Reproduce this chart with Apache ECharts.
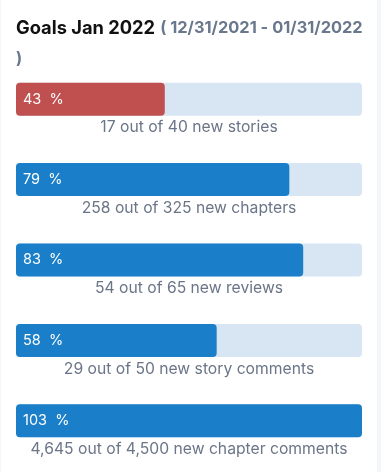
<!DOCTYPE html>
<html><head><meta charset="utf-8">
<script src="https://cdn.jsdelivr.net/npm/echarts@6/dist/echarts.min.js"></script>
<style>
html,body{margin:0;padding:0;background:#f4f6f9;}
#card{position:absolute;left:1px;top:0;width:376px;height:472px;background:#fff;}
#c{width:376px;height:472px;}
</style></head>
<body><div id="card"><div id="c"></div></div>
<script>
const categories = ['stories','chapters','reviews','story comments','chapter comments'];
const done = [17, 258, 54, 29, 4645];
const goals = [40, 325, 65, 50, 4500];
const percents = [43, 79, 83, 58, 103];
const barColors = ['#c0504f','#1a7fc8','#1a7fc8','#1a7fc8','#1a7fc8'];

const fmt = n => n.toLocaleString('en-US');
const chart = echarts.init(document.getElementById('c'));
chart.setOption({
  animation:false,
  title:{
    left:15, top:13, padding:0,
    text:'{a|Goals Jan 2022} {b|( 12/31/2021 - 01/31/2022}\n{b|)}',
    textStyle:{
      lineHeight:31,
      rich:{
        a:{fontFamily:'Inter',fontWeight:'bold',fontSize:18.3,color:'#111',lineHeight:31},
        b:{fontFamily:'Inter',fontWeight:'bold',fontSize:16.4,color:'#6a788e',lineHeight:31}
      }
    }
  },
  grid:{left:15, width:346, top:59, bottom:11},
  xAxis:{type:'value', min:0, max:100, show:false},
  yAxis:{type:'category', data:categories, inverse:true, show:false},
  series:[
    {
      type:'bar', barWidth:33, barGap:'-100%', silent:true,
      data: categories.map(()=>100),
      itemStyle:{color:'#d8e5f3', borderRadius:4},
      label:{show:true, position:'bottom', distance:4,
        fontFamily:'Inter', fontSize:15.7, color:'#6b7588',
        formatter:p=>fmt(done[p.dataIndex])+' out of '+fmt(goals[p.dataIndex])+' new '+categories[p.dataIndex]}
    },
    {
      type:'bar', barWidth:33, barGap:'-100%',
      data: percents.map((v,i)=>({value:Math.min(v,100), itemStyle:{color:barColors[i]}})),
      itemStyle:{borderRadius:4},
      label:{show:true, position:'insideLeft', distance:7,
        fontFamily:'Inter', fontSize:14.5, color:'#fff',
        formatter:p=>percents[p.dataIndex]+'  %'}
    }
  ]
});
</script></body></html>
